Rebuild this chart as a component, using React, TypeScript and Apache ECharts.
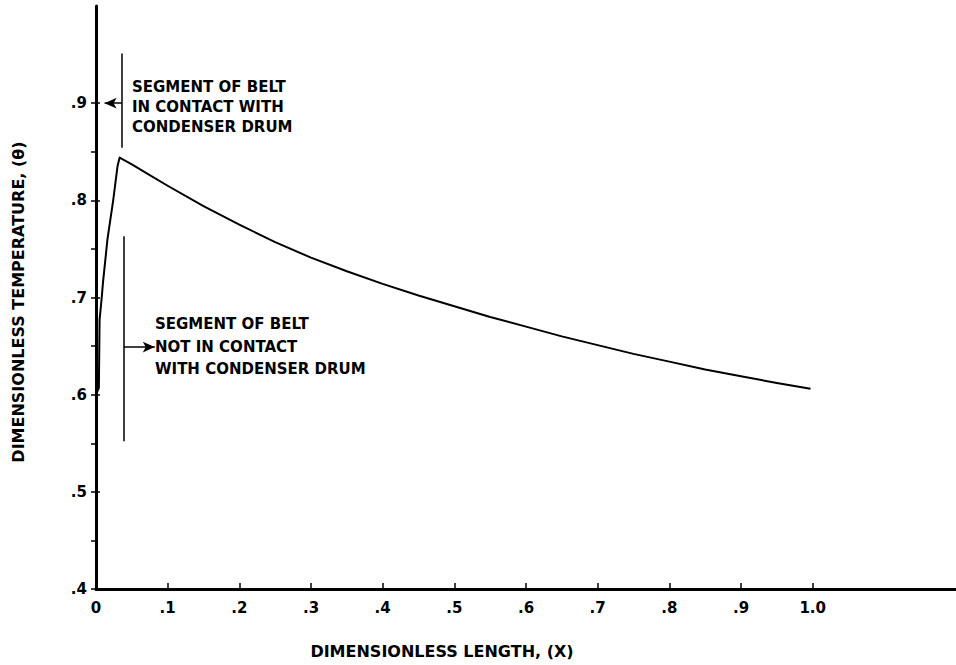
import React, { useEffect, useRef } from "react";
import * as echarts from "echarts";

// Curve: dimensionless temperature vs dimensionless length
const curveX = [0, 0.004, 0.005, 0.008, 0.0097, 0.016, 0.024, 0.03, 0.033, 0.05, 0.075, 0.1, 0.15, 0.2, 0.25, 0.3, 0.35, 0.4, 0.45, 0.5, 0.55, 0.6, 0.65, 0.7, 0.75, 0.8, 0.85, 0.9, 0.95, 0.997];
const curveY = [0.6, 0.607, 0.677, 0.7, 0.715, 0.76, 0.8, 0.835, 0.844, 0.837, 0.826, 0.815, 0.794, 0.775, 0.757, 0.741, 0.727, 0.714, 0.702, 0.691, 0.68, 0.67, 0.66, 0.651, 0.642, 0.634, 0.626, 0.619, 0.612, 0.606];

// Ticks
const xTickValues = [0, 0.1, 0.2, 0.3, 0.4, 0.5, 0.6, 0.7, 0.8, 0.9, 1.0];
const yLabelValues = [0.4, 0.5, 0.6, 0.7, 0.8, 0.9];
const yTickValues = [0.4, 0.45, 0.5, 0.55, 0.6, 0.65, 0.7, 0.75, 0.8, 0.85, 0.9];

// Annotation markers (data coordinates)
const contactMarker = [[0.036, 0.951], [0.036, 0.854]];
const contactArrow = [[0.036, 0.9], [0.012, 0.9]];
const freeMarker = [[0.039, 0.763], [0.039, 0.552]];
const freeArrow = [[0.039, 0.649], [0.082, 0.649]];

const contactText = ["SEGMENT OF BELT", "IN CONTACT WITH", "CONDENSER DRUM"];
const freeText = ["SEGMENT OF BELT", "NOT IN CONTACT", "WITH CONDENSER DRUM"];
const xTitle = "DIMENSIONLESS LENGTH, (X)";
const yTitle = "DIMENSIONLESS TEMPERATURE, (θ)";

const FONT = "DejaVu Sans";

export default function App() {
  const ref = useRef<HTMLDivElement>(null);
  useEffect(() => {
    document.body.style.margin = "0";
    if (!ref.current) return;
    const chart = echarts.init(ref.current, undefined, { renderer: "svg" });
    const fmtX = (v: number) => (v === 0 ? "0" : v >= 0.999 ? "1.0" : "." + Math.round(v * 10));
    const fmtY = (v: number) => "." + Math.round(v * 10);
    const seg = (p: number[][], arrow: boolean) => [
      { coord: p[0], symbol: "none" },
      { coord: p[1], symbol: arrow ? "arrow" : "none", symbolSize: [8, 12] },
    ];
    const option: any = {
      animation: false,
      backgroundColor: "#fff",
      grid: { left: 96, right: 0, top: 6, bottom: 76, containLabel: false },
      xAxis: {
        type: "value",
        min: 0,
        max: 1.2,
        axisLine: { show: true, onZero: false, lineStyle: { color: "#000", width: 3 } },
        axisTick: { show: true, inside: true, length: 6, customValues: xTickValues, lineStyle: { color: "#000", width: 1.5 } },
        axisLabel: {
          customValues: xTickValues,
          formatter: fmtX,
          color: "#000",
          fontFamily: FONT,
          fontWeight: "bold",
          fontSize: 15,
          margin: 11,
        },
        splitLine: { show: false },
      },
      yAxis: [
        {
          type: "value",
          min: 0.4,
          max: 1.0,
          axisLine: { show: true, lineStyle: { color: "#000", width: 3 } },
          axisTick: { show: true, inside: false, length: 5, customValues: yTickValues, lineStyle: { color: "#000", width: 1.5 } },
          axisLabel: {
            customValues: yLabelValues,
            formatter: fmtY,
            color: "#000",
            fontFamily: FONT,
            fontWeight: "bold",
            fontSize: 15,
            margin: 9,
          },
          splitLine: { show: false },
        },
        {
          type: "value",
          position: "left",
          min: 0.4,
          max: 1.0,
          axisLine: { show: false },
          axisTick: { show: true, inside: true, length: 4, customValues: yLabelValues, lineStyle: { color: "#000", width: 1.5 } },
          axisLabel: { show: false },
          splitLine: { show: false },
        },
      ],
      series: [
        {
          type: "line",
          data: curveX.map((x, i) => [x, curveY[i]]),
          showSymbol: false,
          smooth: false,
          lineStyle: { color: "#000", width: 2, join: "round" },
          markLine: {
            silent: true,
            animation: false,
            label: { show: false },
            lineStyle: { color: "#000", width: 1.5, type: "solid" },
            data: [
              seg(contactMarker, false),
              seg(contactArrow, true),
              seg(freeMarker, false),
              seg(freeArrow, true),
            ],
          },
        },
      ],
      graphic: [
        {
          type: "text",
          left: 132,
          top: 77,
          style: {
            text: contactText.join("\n"),
            fill: "#000",
            font: `bold 15px "${FONT}"`,
            lineHeight: 20,
          },
        },
        {
          type: "text",
          left: 155,
          top: 313,
          style: {
            text: freeText.join("\n"),
            fill: "#000",
            font: `bold 15px "${FONT}"`,
            lineHeight: 22.5,
          },
        },
        {
          type: "text",
          x: 442,
          y: 651,
          style: {
            text: xTitle,
            fill: "#000",
            font: `bold 16px "${FONT}"`,
            align: "center",
            verticalAlign: "middle",
          },
        },
        {
          type: "text",
          x: 18,
          y: 302,
          rotation: Math.PI / 2,
          style: {
            text: yTitle,
            fill: "#000",
            font: `bold 16px "${FONT}"`,
            align: "center",
            verticalAlign: "middle",
          },
        },
      ],
    };
    chart.setOption(option);
    return () => chart.dispose();
  }, []);
  return <div ref={ref} style={{ width: 956, height: 665 }} />;
}
